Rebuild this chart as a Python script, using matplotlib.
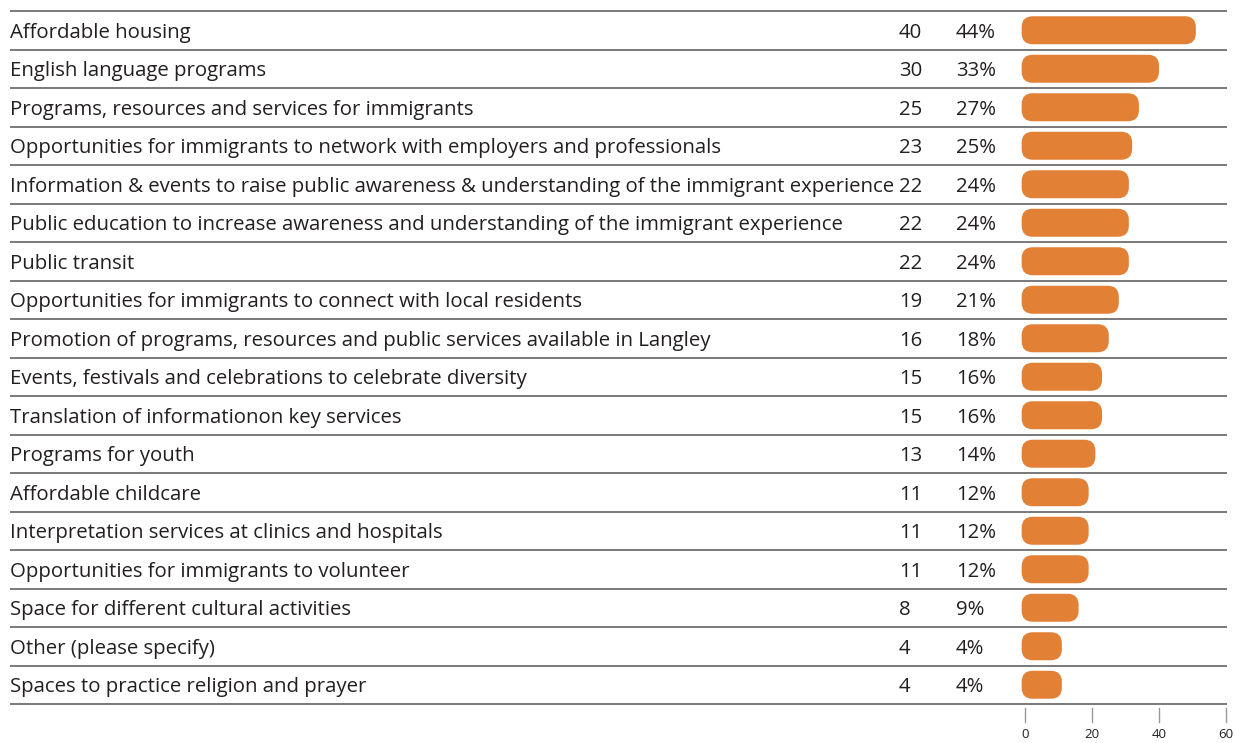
import numpy as np
import matplotlib
matplotlib.use("Agg")
import matplotlib.pyplot as plt
import matplotlib.transforms as mtransforms
from matplotlib.patches import FancyBboxPatch

categories = [
    "Affordable housing",
    "English language programs",
    "Programs, resources and services for immigrants",
    "Opportunities for immigrants to network with employers and professionals",
    "Information & events to raise public awareness & understanding of the immigrant experience",
    "Public education to increase awareness and understanding of the immigrant experience",
    "Public transit",
    "Opportunities for immigrants to connect with local residents",
    "Promotion of programs, resources and public services available in Langley",
    "Events, festivals and celebrations to celebrate diversity",
    "Translation of informationon key services",
    "Programs for youth",
    "Affordable childcare",
    "Interpretation services at clinics and hospitals",
    "Opportunities for immigrants to volunteer",
    "Space for different cultural activities",
    "Other (please specify)",
    "Spaces to practice religion and prayer",
]
counts = [40, 30, 25, 23, 22, 22, 22, 19, 16, 15, 15, 13, 11, 11, 11, 8, 4, 4]
percents = [44, 33, 27, 25, 24, 24, 24, 21, 18, 16, 16, 14, 12, 12, 12, 9, 4, 4]
xticks = [0, 20, 40, 60]

ORANGE = "#E28036"
TEXT = "#231F20"
W, H = 1235, 743
FS = 14.7
plt.rcParams["font.family"] = ["Open Sans", "DejaVu Sans"]

fig = plt.figure(figsize=(W / 100, H / 100), dpi=100)
top_px, bot_px = 11, 704
x0_px, x60_px = 1025, 1226
ax = fig.add_axes([x0_px / W, 1 - bot_px / H, (x60_px - x0_px) / W, (bot_px - top_px) / H])
n = len(categories)
ax.set_xlim(0, 60)
ax.set_ylim(n, 0)
ax.axis("off")

px_x = (x60_px - x0_px) / 60.0      # pixels per x unit
px_y = (bot_px - top_px) / n        # pixels per row

# row separators across the whole table
tr = mtransforms.blended_transform_factory(fig.transFigure, ax.transData)
for i in range(n + 1):
    ax.plot([10 / W, 1227 / W], [i, i], transform=tr, color="#555555", lw=1.1,
            clip_on=False, solid_capstyle="butt")

# text columns
dy = 2.5 / px_y
for i, (c, k, p) in enumerate(zip(categories, counts, percents)):
    y = i + 0.5 + dy
    ax.text(10 / W, y, c, transform=tr, ha="left", va="center", fontsize=FS, color=TEXT)
    ax.text(899 / W, y, str(k), transform=tr, ha="left", va="center", fontsize=FS, color=TEXT)
    ax.text(956 / W, y, f"{p}%", transform=tr, ha="left", va="center", fontsize=FS, color=TEXT)

# rounded bars
bar_h = 28 / px_y
rad = 11 / px_x
for i, p in enumerate(percents):
    y = i + 0.5
    patch = FancyBboxPatch((-1, y - bar_h / 2), p + 8, bar_h,
                           boxstyle=f"round,pad=0,rounding_size={rad}",
                           mutation_aspect=px_x / px_y,
                           fc=ORANGE, ec="none", clip_on=False)
    ax.add_patch(patch)

# axis ticks below
for t in xticks:
    ax.plot([t, t], [n + 4 / px_y, n + 18 / px_y], color="#999999", lw=1, clip_on=False)
    ax.text(t, n + 31 / px_y, str(t), ha="center", va="center", fontsize=9.5,
            color=TEXT, clip_on=False)

fig.savefig("out.png", dpi=100)
